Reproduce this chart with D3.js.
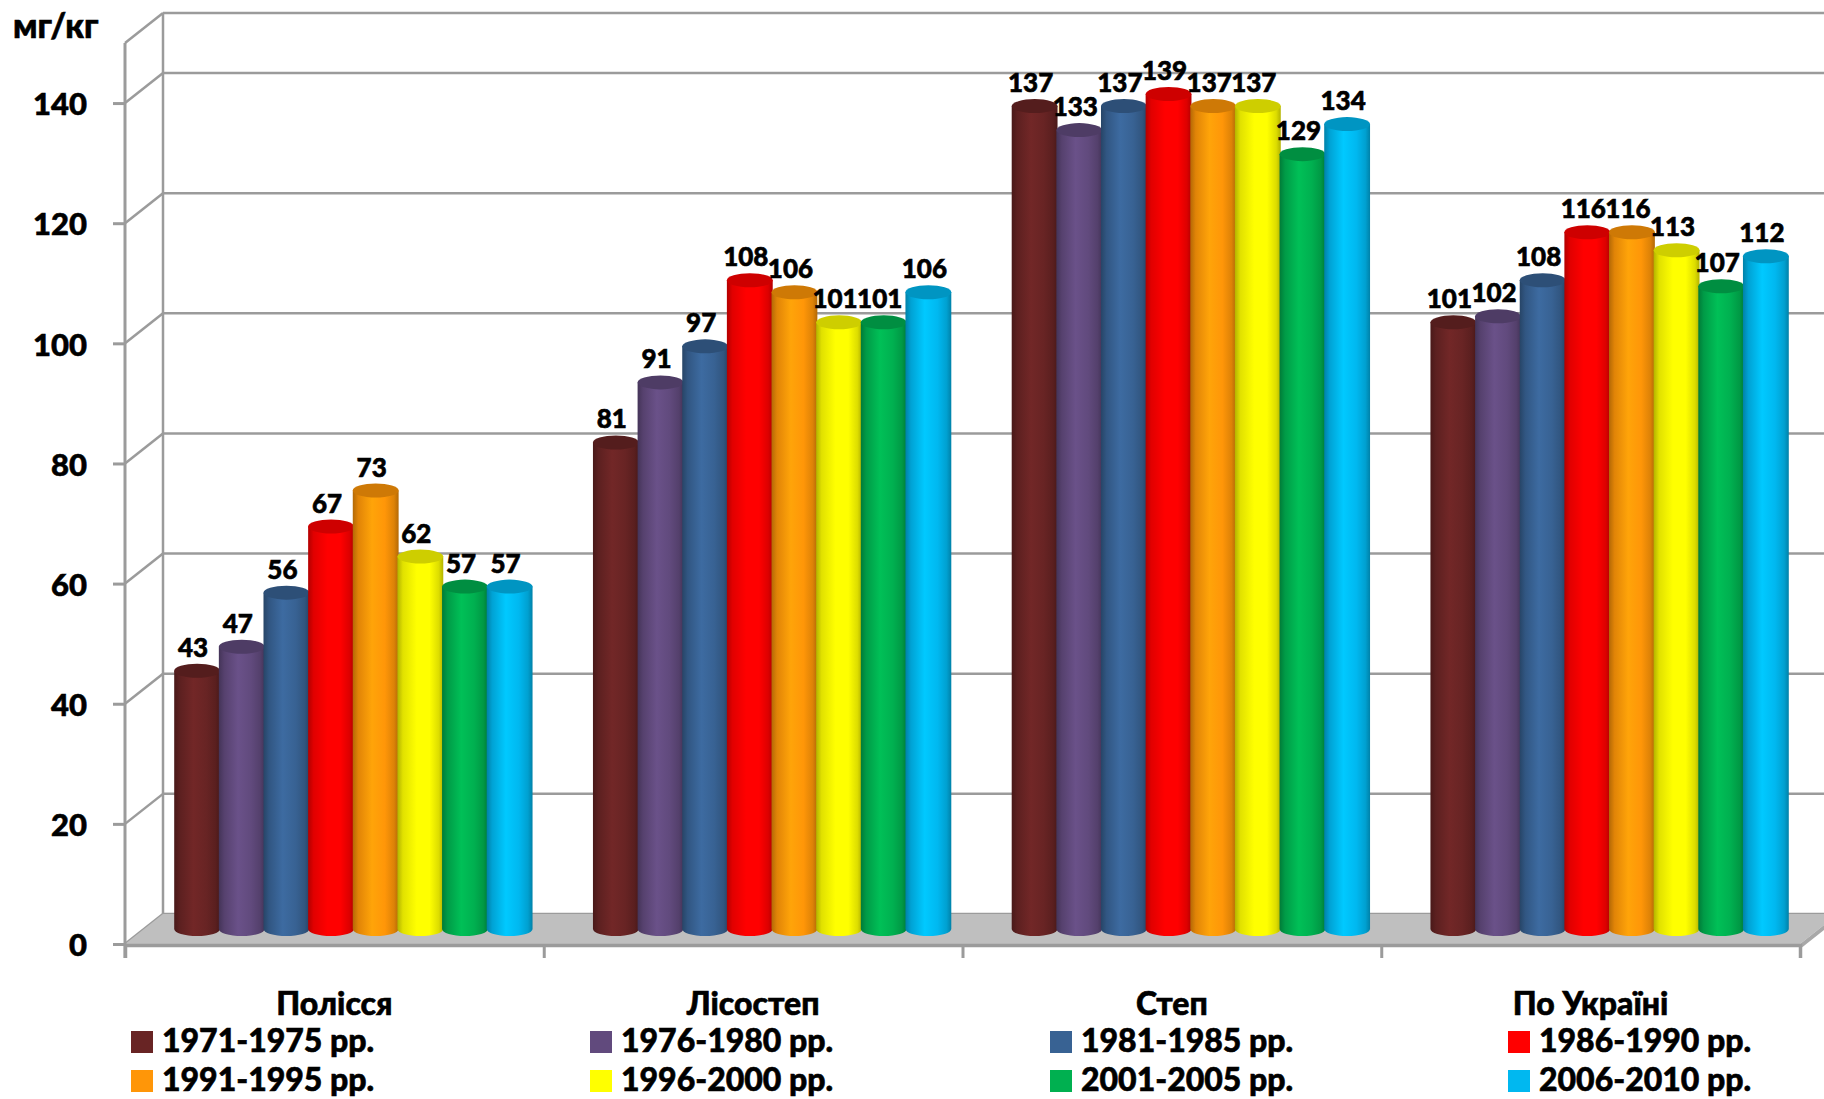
<!DOCTYPE html>
<html>
<head>
<meta charset="utf-8">
<script src="https://cdn.jsdelivr.net/npm/d3@7"></script>
<style>
  html, body { margin: 0; padding: 0; background: #fff; }
  svg { display: block; }
  text { font-family: Lato, "Open Sans", "Noto Sans", sans-serif; font-weight: 900; fill: #000;
         stroke: #000; stroke-width: 0.6px; }
</style>
</head>
<body>
<svg id="chart" width="1824" height="1099"></svg>
<script>
// Natural zones of Ukraine and the national average
const categories = ["Полісся", "Лісостеп", "Степ", "По Україні"];

// Five-year periods (one cylinder per period within each zone)
const periods = ["1971-1975 рр.", "1976-1980 рр.", "1981-1985 рр.", "1986-1990 рр.",
                 "1991-1995 рр.", "1996-2000 рр.", "2001-2005 рр.", "2006-2010 рр."];

// Content, mg/kg, per period, in the order of the zones above
const p1971_1975 = [43, 81, 137, 101];
const p1976_1980 = [47, 91, 133, 102];
const p1981_1985 = [56, 97, 137, 108];
const p1986_1990 = [67, 108, 139, 116];
const p1991_1995 = [73, 106, 137, 116];
const p1996_2000 = [62, 101, 137, 113];
const p2001_2005 = [57, 101, 129, 107];
const p2006_2010 = [57, 106, 134, 112];
const seriesValues = [p1971_1975, p1976_1980, p1981_1985, p1986_1990,
                      p1991_1995, p1996_2000, p2001_2005, p2006_2010];

const yTicks = [0, 20, 40, 60, 80, 100, 120, 140];
const yMax = 150;
const unitLabel = "мг/кг";

const colors = ["#682424", "#614A7D", "#386293", "#FF0000",
                "#FF9608", "#FFFF00", "#00B050", "#00B8F0"];

// ---- layout of the pseudo-3D box ----
const svg = d3.select("#chart");
const frontLeft = 125, frontRight = 1800;
const depthX = 38, depthY = -30;            // offset from front plane to back wall
const midX = depthX / 2, midY = depthY / 2; // cylinders stand halfway in depth

const x = d3.scaleBand().domain(categories).range([frontLeft, frontRight]).padding(0);
const xs = d3.scaleBand().domain(periods).range([0, x.bandwidth()])
  .paddingInner(0).paddingOuter(0.69);
const y = d3.scaleLinear().domain([0, yMax]).range([944, 43]);

const gridColor = "#9B9B9B";
const grid = svg.append("g").attr("fill", "none").attr("stroke", gridColor).attr("stroke-width", 2.5);
const wallValues = yTicks.concat([yMax]);

// back wall horizontal gridlines
grid.selectAll("line.back").data(wallValues).join("line")
  .attr("class", "back")
  .attr("x1", frontLeft + depthX).attr("x2", frontRight + depthX)
  .attr("y1", d => y(d) + depthY).attr("y2", d => y(d) + depthY);

// side wall diagonals
grid.selectAll("line.side").data(wallValues).join("line")
  .attr("class", "side")
  .attr("x1", frontLeft).attr("x2", frontLeft + depthX)
  .attr("y1", d => y(d)).attr("y2", d => y(d) + depthY);

// back wall left edge
grid.append("line")
  .attr("x1", frontLeft + depthX).attr("x2", frontLeft + depthX)
  .attr("y1", y(yMax) + depthY).attr("y2", y(0) + depthY);

// floor slab
const floorTop = [[frontLeft, y(0)], [frontLeft + depthX, y(0) + depthY],
                  [frontRight + depthX, y(0) + depthY], [frontRight, y(0)]];
svg.append("polygon")
  .attr("points", floorTop.map(p => p.join(",")).join(" "))
  .attr("fill", "#BFBFBF");
svg.append("polygon")
  .attr("points", [[frontRight, y(0)], [frontRight + depthX, y(0) + depthY],
                   [frontRight + depthX, y(0) + depthY + 5], [frontRight, y(0) + 5]]
                   .map(p => p.join(",")).join(" "))
  .attr("fill", "#A8A8A8");

// ---- cylinders ----
const defs = svg.append("defs");
colors.forEach((c, j) => {
  const base = d3.color(c);
  const g = defs.append("linearGradient").attr("id", "cyl" + j)
    .attr("x1", 0).attr("x2", 1).attr("y1", 0).attr("y2", 0);
  const stops = [
    [0, base.darker(1.0)], [0.12, base.darker(0.35)], [0.42, base.brighter(0.25)],
    [0.7, base], [0.9, base.darker(0.4)], [1, base.darker(1.0)]
  ];
  stops.forEach(([o, col]) => g.append("stop").attr("offset", o).attr("stop-color", col.formatHex()));
});

const bw = xs.bandwidth();
const rx = bw / 2 + 0.6, ry = 7;
const bars = [];
categories.forEach((cat, i) => {
  periods.forEach((p, j) => {
    const v = seriesValues[j][i];
    bars.push({
      cat, p, j, v,
      cx: x(cat) + xs(p) + bw / 2 + midX,
      top: y(v) + midY,
      base: y(0) + midY
    });
  });
});

const barG = svg.append("g");
const cyl = barG.selectAll("g.cyl").data(bars).join("g").attr("class", "cyl");
cyl.append("path")
  .attr("d", d => `M${d.cx - rx},${d.top} L${d.cx - rx},${d.base}
                   A${rx},${ry} 0 0 0 ${d.cx + rx},${d.base}
                   L${d.cx + rx},${d.top} Z`)
  .attr("fill", d => `url(#cyl${d.j})`);
cyl.append("ellipse")
  .attr("cx", d => d.cx).attr("cy", d => d.top)
  .attr("rx", rx).attr("ry", ry)
  .attr("fill", d => d3.color(colors[d.j]).darker(0.6).formatHex());

// value labels
svg.append("g").selectAll("text").data(bars).join("text")
  .attr("x", d => d.cx - 4)
  .attr("y", d => d.top - 14)
  .attr("text-anchor", "middle")
  .style("font-size", "26px")
  .text(d => d.v);

// ---- axes ----
const yAxis = svg.append("g")
  .attr("transform", `translate(${frontLeft},0)`)
  .call(d3.axisLeft(y).tickValues(yTicks).tickSize(12).tickPadding(26).tickFormat(d3.format("d")));
yAxis.select(".domain").remove();
yAxis.selectAll(".tick line").attr("stroke", gridColor).attr("stroke-width", 3);
yAxis.selectAll(".tick text").style("font-size", "31px").attr("fill", null)
  .attr("dy", "0.38em");
yAxis.attr("font-family", null).attr("font-size", null);
svg.append("line")
  .attr("x1", frontLeft).attr("x2", frontLeft)
  .attr("y1", y(yMax)).attr("y2", y(0) + 14)
  .attr("stroke", gridColor).attr("stroke-width", 3);

const edge = d3.scaleLinear().domain([0, categories.length]).range([frontLeft, frontRight]);
const xAxis = svg.append("g")
  .attr("transform", `translate(0,${y(0) + 1})`)
  .call(d3.axisBottom(edge).ticks(categories.length).tickSize(13).tickFormat(""));
xAxis.select(".domain").attr("stroke", gridColor).attr("stroke-width", 3.5);
xAxis.selectAll(".tick line").attr("stroke", gridColor).attr("stroke-width", 3);

// category names
svg.append("g").selectAll("text").data(categories).join("text")
  .attr("x", d => x(d) + x.bandwidth() / 2)
  .attr("y", 1015)
  .attr("text-anchor", "middle")
  .style("font-size", "32px")
  .text(d => d);

// unit
svg.append("text").attr("x", 13).attr("y", 38).style("font-size", "34px").text(unitLabel);

// ---- legend ----
const legendCols = [131, 590, 1050, 1508];
const legendRows = [1031, 1070];
const leg = svg.append("g").selectAll("g").data(periods).join("g")
  .attr("transform", (d, k) => `translate(${legendCols[k % 4]},${legendRows[Math.floor(k / 4)]})`);
leg.append("rect").attr("width", 22).attr("height", 22).attr("fill", (d, k) => colors[k])
  .style("stroke", "none");
leg.append("text").attr("x", 31).attr("y", 21).style("font-size", "32px").text(d => d);
</script>
</body>
</html>
